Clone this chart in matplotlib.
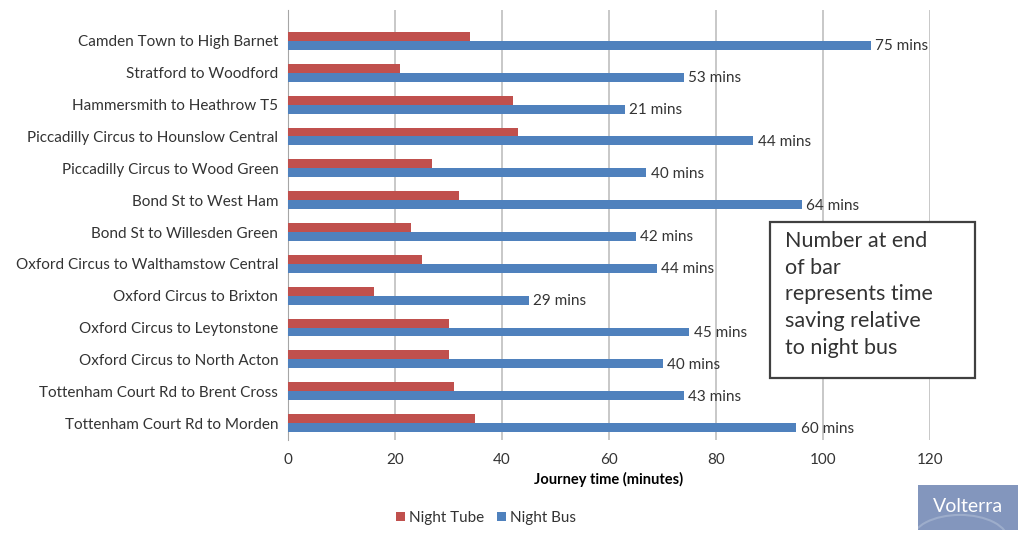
import matplotlib
matplotlib.use("Agg")
from matplotlib import pyplot as plt
from matplotlib.patches import Rectangle, Circle
import numpy as np

plt.rcParams['font.family'] = ['Lato', 'DejaVu Sans']

# journeys, top to bottom as in the chart
routes = ["Camden Town to High Barnet", "Stratford to Woodford", "Hammersmith to Heathrow T5",
          "Piccadilly Circus to Hounslow Central", "Piccadilly Circus to Wood Green",
          "Bond St to West Ham", "Bond St to Willesden Green",
          "Oxford Circus to Walthamstow Central", "Oxford Circus to Brixton",
          "Oxford Circus to Leytonstone", "Oxford Circus to North Acton",
          "Tottenham Court Rd to Brent Cross", "Tottenham Court Rd to Morden"]
night_tube = [34, 21, 42, 43, 27, 32, 23, 25, 16, 30, 30, 31, 35]
night_bus = [109, 74, 63, 87, 67, 96, 65, 69, 45, 75, 70, 74, 95]
saving_labels = ["75 mins", "53 mins", "21 mins", "44 mins", "40 mins", "64 mins", "42 mins",
                 "44 mins", "29 mins", "45 mins", "40 mins", "43 mins", "60 mins"]
x_ticks = [0, 20, 40, 60, 80, 100, 120]

tube_col = '#C0504D'
bus_col = '#4F81BD'
txt_col = '#333333'

fig = plt.figure(figsize=(10.24, 5.35), dpi=100)
ax = fig.add_axes([288 / 1024, 1 - 440 / 535, (930 - 288) / 1024, (440 - 10) / 535])

n = len(routes)
y = np.arange(n)[::-1]
h = 0.28
ax.barh(y + 0.14, night_tube, height=h, color=tube_col, label='Night Tube', zorder=3)
ax.barh(y - 0.14, night_bus, height=h, color=bus_col, label='Night Bus', zorder=3)

# time saving labels at the end of the bus bars
for yi, b, lab in zip(y, night_bus, saving_labels):
    ax.text(b + 0.8, yi - 0.17, lab, va='center', ha='left', fontsize=11, color=txt_col, zorder=4)

ax.set_xlim(0, 120)
ax.set_ylim(-0.53, n - 1 + 0.97)
ax.set_xticks(x_ticks)
ax.set_yticks(y)
ax.set_yticklabels(routes, fontsize=11, color=txt_col)
ax.tick_params(axis='x', labelsize=11, colors=txt_col, length=0, pad=9)
ax.tick_params(axis='y', length=0, pad=7)
ax.grid(axis='x', color='#BFBFBF', linewidth=1.2, zorder=0)
for s in ['top', 'right', 'bottom']:
    ax.spines[s].set_visible(False)
ax.spines['left'].set_color('#A6A6A6')
ax.set_xlabel('Journey time (minutes)', fontsize=10.5, fontweight='bold', color='black', labelpad=4)

fig.legend(loc='center', bbox_to_anchor=(486 / 1024, 1 - 518 / 535), ncol=2, frameon=False,
           fontsize=11, handlelength=0.6, handleheight=0.6, handletextpad=0.3, columnspacing=0.8,
           labelcolor=txt_col)

# note box
fig.patches.append(Rectangle((770 / 1024, 1 - 378 / 535), 205 / 1024, 156 / 535,
                             transform=fig.transFigure, facecolor='white', edgecolor='#404040',
                             linewidth=1.6, zorder=5))
fig.text(785 / 1024, 1 - 231 / 535,
         "Number at end\nof bar\nrepresents time\nsaving relative\nto night bus",
         ha='left', va='top', fontsize=15.5, color='#333333', linespacing=1.42, zorder=6)

# Volterra badge
badge = Rectangle((918 / 1024, 1 - 530 / 535), 100 / 1024, 45 / 535,
                  transform=fig.transFigure, facecolor='#8396BD', edgecolor='none', zorder=5)
fig.patches.append(badge)
arc = Circle((960 / 1024, 1 - 540 / 535), 48 / 1024, transform=fig.transFigure,
             facecolor='none', edgecolor='#9DADCB', linewidth=1.5, zorder=5)
arc.set_clip_path(badge)
fig.patches.append(arc)
fig.text(968 / 1024, 1 - 507 / 535, "Volterra", ha='center', va='center', fontsize=14,
         color='white', zorder=6)

fig.savefig('out.png', dpi=100)
plt.close(fig)
